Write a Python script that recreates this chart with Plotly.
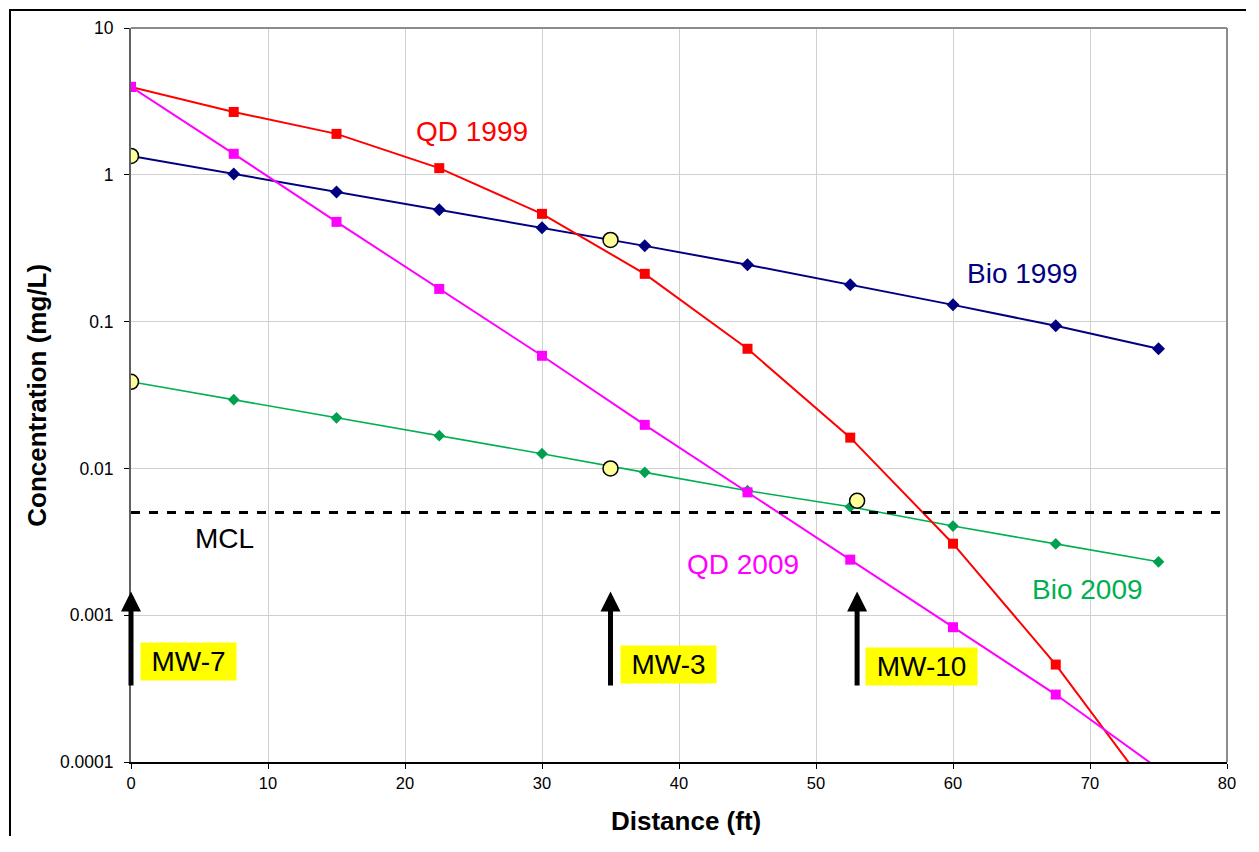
import plotly.graph_objects as go

# ---------------- data ----------------
distance = [0, 7.5, 15, 22.5, 30, 37.5, 45, 52.5, 60, 67.5, 75]
qd_1999 = [3.97, 2.68, 1.90, 1.11, 0.542, 0.2115, 0.0653, 0.0162, 0.00307, 0.000461, 0.000053]
qd_2009 = [3.97, 1.39, 0.478, 0.167, 0.0585, 0.0198, 0.00687, 0.00239, 0.000828, 0.000288, 0.00009]
bio_1999 = [1.345, 1.014, 0.765, 0.577, 0.435, 0.328, 0.244, 0.178, 0.130, 0.0936, 0.0653]
bio_2009 = [0.0389, 0.0294, 0.0221, 0.0167, 0.0126, 0.0094, 0.00705, 0.00548, 0.00405, 0.00306, 0.00231]
well_x = [0, 35, 53, 0, 35]
well_y = [1.345, 0.36, 0.00602, 0.0389, 0.0100]
mcl_x = [0, 80]
mcl_value = 0.005
wells = ["MW-7", "MW-3", "MW-10"]
well_pos = [0, 35, 53]
y_tickvals = [0.0001, 0.001, 0.01, 0.1, 1, 10]
y_ticktext = ["0.0001", "0.001", "0.01", "0.1", "1", "10"]
x_tickvals = [0, 10, 20, 30, 40, 50, 60, 70, 80]

FONT = "Liberation Sans, Arial, sans-serif"
# page has an 8px body margin; keep the figure small enough to avoid any scrollbars
OFF = 8
W, H = 1238, 828
PAGE_L, PAGE_R, PAGE_T, PAGE_B = 131, 1236, 28, 762
L, T = PAGE_L - OFF, PAGE_T - OFF
PW, PH = PAGE_R - PAGE_L, PAGE_B - PAGE_T
R, B = W - L - PW, H - T - PH


def px_to_logy(py):
    return 1 - (py - PAGE_T) / (PH / 5)


def px_to_x(px):
    return (px - PAGE_L) / PW * 80


def paper_x(px):
    return (px - PAGE_L) / PW


def paper_y(py):
    return (PAGE_B - py) / PH


fig = go.Figure()

fig.add_trace(go.Scatter(x=distance, y=bio_1999, mode="lines+markers", name="Bio 1999",
                         line=dict(color="#000080", width=2),
                         marker=dict(symbol="diamond", size=10, color="#000080")))
fig.add_trace(go.Scatter(x=distance, y=bio_2009, mode="lines+markers", name="Bio 2009",
                         line=dict(color="#00B050", width=1.6),
                         marker=dict(symbol="diamond", size=9, color="#00A050")))
fig.add_trace(go.Scatter(x=distance, y=qd_1999, mode="lines+markers", name="QD 1999",
                         line=dict(color="#FF0000", width=2),
                         marker=dict(symbol="square", size=10, color="#FF0000")))
fig.add_trace(go.Scatter(x=distance, y=qd_2009, mode="lines+markers", name="QD 2009",
                         line=dict(color="#FF00FF", width=2),
                         marker=dict(symbol="square", size=10, color="#FF00FF")))
fig.add_trace(go.Scatter(x=mcl_x, y=[mcl_value] * len(mcl_x), mode="lines", name="MCL",
                         line=dict(color="black", width=3, dash="dash")))
fig.add_trace(go.Scatter(x=well_x, y=well_y, mode="markers", name="Wells",
                         marker=dict(symbol="circle", size=15, color="#FFFF99",
                                     line=dict(color="black", width=1.5))))

annotations = []
# series labels
series_labels = [
    ("QD 1999", "#FF0000", 474.5, 131),
    ("Bio 1999", "#000080", 1030, 273),
    ("QD 2009", "#FF00FF", 748, 564),
    ("Bio 2009", "#00B050", 1095, 589),
    ("MCL", "black", 225, 538),
]
for txt, col, px, py in series_labels:
    annotations.append(dict(x=px_to_x(px), y=px_to_logy(py), xref="x", yref="y", text=txt,
                            showarrow=False, font=dict(size=28, color=col, family=FONT),
                            xanchor="center", yanchor="middle"))

# arrows and well labels
box_left = [140, 624, 870.7]
box_cy = [661, 664, 666]
box_w = [89, 89, 105]
for name, xp, bl, cy, bw in zip(wells, well_pos, box_left, box_cy, box_w):
    annotations.append(dict(x=xp, y=px_to_logy(591.5), ax=xp, ay=px_to_logy(687),
                            xref="x", yref="y", axref="x", ayref="y", text="",
                            showarrow=True, arrowhead=2, arrowsize=0.8, arrowwidth=5,
                            arrowcolor="black", standoff=0, startstandoff=0))
    annotations.append(dict(x=px_to_x(bl), y=px_to_logy(cy), xref="x", yref="y", text=name,
                            showarrow=False, font=dict(size=28, color="black", family=FONT),
                            xanchor="left", yanchor="middle", bgcolor="#FFFF00",
                            width=bw, borderpad=3, align="center"))

# axis titles
annotations.append(dict(x=paper_x(691), y=paper_y(821), xref="paper", yref="paper",
                        text="<b>Distance (ft)</b>",
                        showarrow=False, font=dict(size=26, color="black", family=FONT),
                        xanchor="center", yanchor="middle"))
annotations.append(dict(x=paper_x(36), y=paper_y(395), xref="paper", yref="paper",
                        text="<b>Concentration (mg/L)</b>", textangle=-90,
                        showarrow=False, font=dict(size=26, color="black", family=FONT),
                        xanchor="center", yanchor="middle"))

shapes = [
    # plot-area top and right border
    dict(type="line", xref="paper", yref="paper", x0=0, x1=1, y0=1, y1=1,
         line=dict(color="#8C8C8C", width=2)),
    dict(type="line", xref="paper", yref="paper", x0=1, x1=1, y0=0, y1=1,
         line=dict(color="#8C8C8C", width=2)),
    # outer chart border (right and bottom edges lie outside the picture)
    dict(type="rect", xref="paper", yref="paper",
         x0=paper_x(9), x1=paper_x(1290),
         y0=paper_y(900), y1=paper_y(10),
         line=dict(color="black", width=2), fillcolor="rgba(0,0,0,0)", layer="below"),
]

fig.update_layout(
    width=W, height=H,
    margin=dict(l=L, r=R, t=T, b=B, pad=0),
    paper_bgcolor="white", plot_bgcolor="white",
    showlegend=False,
    font=dict(family=FONT, color="black"),
    annotations=annotations,
    shapes=shapes,
    xaxis=dict(range=[0, 80], tickvals=x_tickvals, showgrid=True, gridcolor="#D0D0D0", gridwidth=1,
               zeroline=False, showline=True, linecolor="black", linewidth=2,
               ticks="outside", ticklen=5, tickcolor="black", tickwidth=1,
               tickfont=dict(size=16.5, color="black", family=FONT)),
    yaxis=dict(type="log", range=[-4, 1], tickvals=y_tickvals, ticktext=y_ticktext,
               showgrid=True, gridcolor="#D0D0D0", gridwidth=1, zeroline=False,
               showline=True, linecolor="#606060", linewidth=2,
               ticks="outside", ticklen=5, tickcolor="black", tickwidth=1,
               ticklabelstandoff=7,
               tickfont=dict(size=17.5, color="black", family=FONT)),
)

fig.write_html("out.html")
